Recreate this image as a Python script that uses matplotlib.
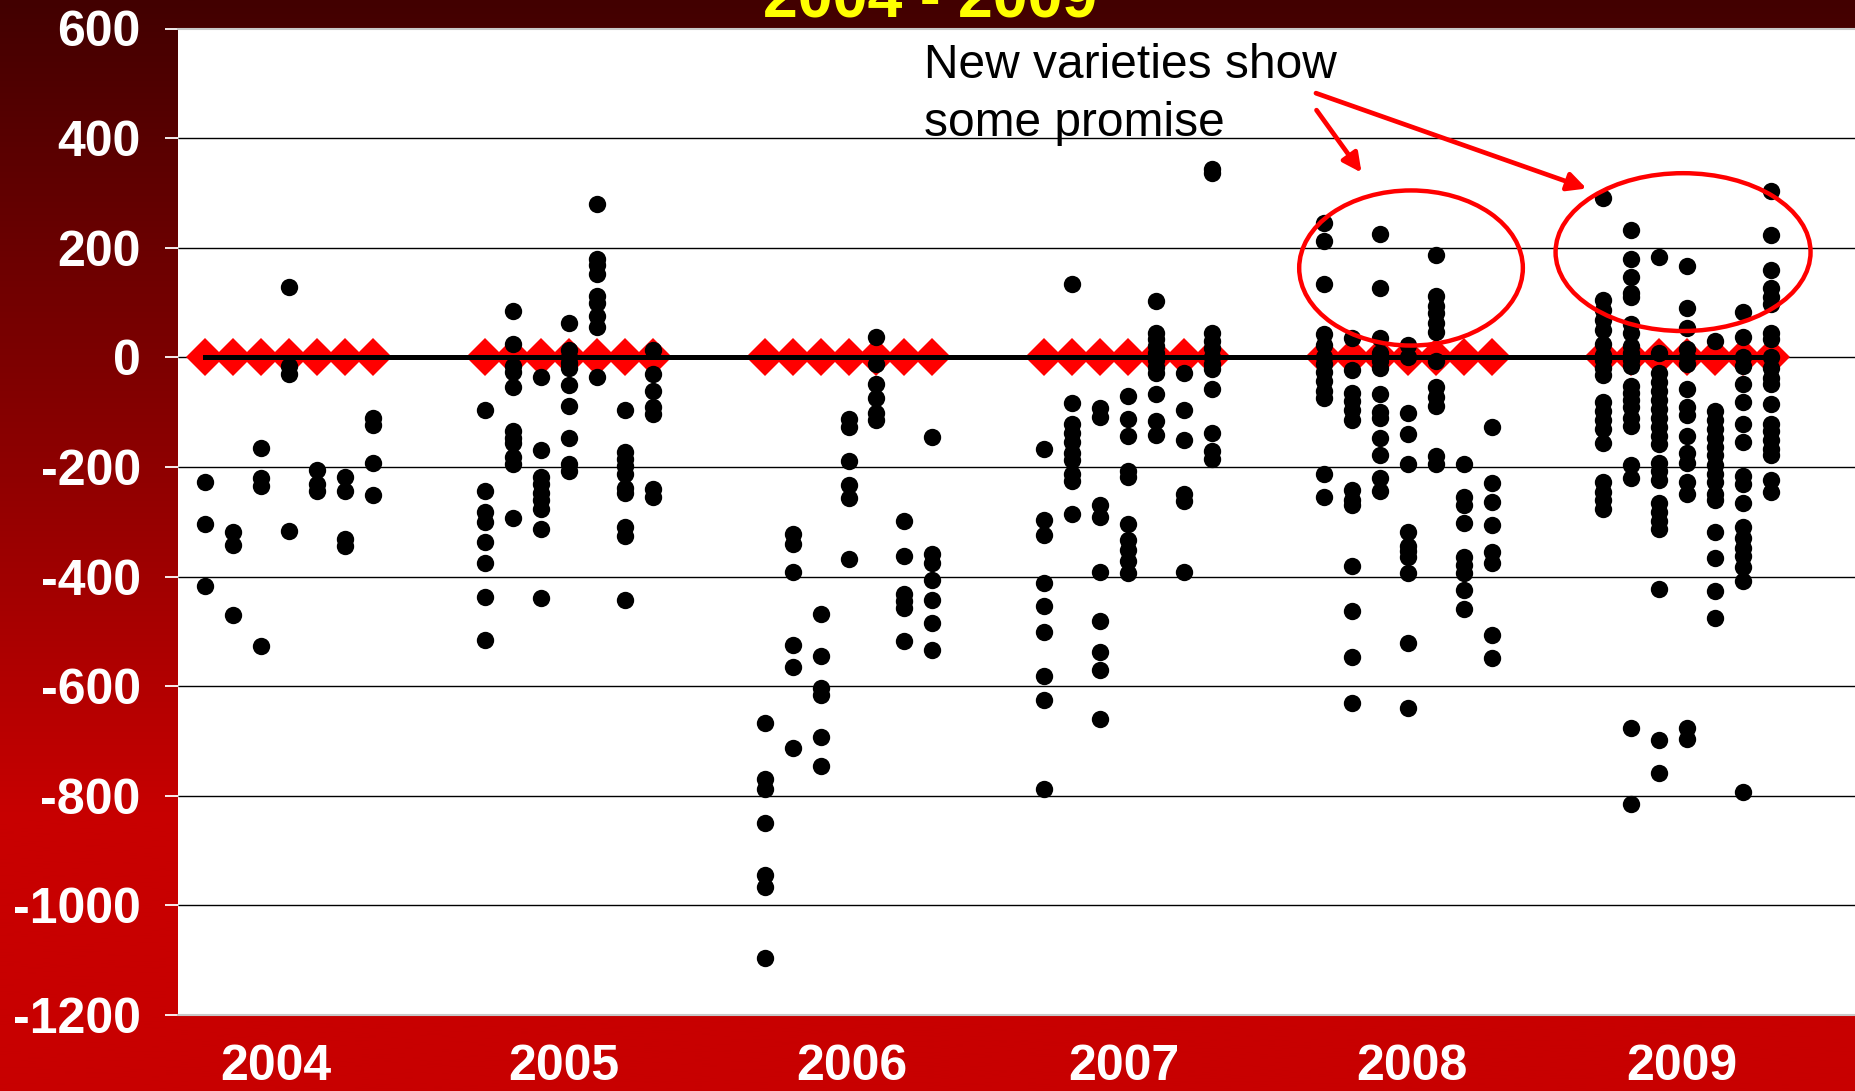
import matplotlib
matplotlib.use("Agg")
import matplotlib.pyplot as plt
import matplotlib.transforms as mtransforms
from matplotlib.patches import Ellipse
import numpy as np

years = ["2004", "2005", "2006", "2007", "2008", "2009"]

# yield difference vs. check for each of the 7 varieties per year
y2004 = [[-228, -305, -417],
         [-319, -342, -471],
         [-166, -221, -234, -526],
         [128, -15, -30, -317],
         [-205, -231, -244],
         [-218, -244, -332, -345],
         [-111, -124, -193, -251]]
y2005 = [[-96, -244, -283, -300, -337, -375, -437, -515],
         [85, 24, -16, -26, -54, -134, -147, -156, -182, -195, -293],
         [-35, -169, -218, -231, -248, -261, -277, -313, -440],
         [62, 13, 0, -10, -20, -50, -88, -147, -195, -208],
         [279, 180, 168, 152, 111, 100, 75, 55, -35],
         [-96, -173, -186, -199, -212, -238, -248, -309, -326, -443],
         [13, -31, -62, -91, -104, -241, -254]]
y2006 = [[-668, -770, -787, -850, -945, -967, -1096],
         [-323, -340, -392, -525, -565, -712],
         [-468, -545, -603, -616, -693, -745],
         [-113, -127, -190, -233, -256, -368],
         [38, -13, -48, -74, -102, -114],
         [-298, -363, -432, -444, -457, -518],
         [-145, -358, -375, -407, -442, -484, -534]]
y2007 = [[-168, -296, -325, -412, -453, -502, -582, -626, -787],
         [134, -83, -121, -138, -154, -175, -188, -213, -225, -285],
         [-92, -109, -269, -292, -391, -482, -538, -571, -659],
         [-71, -113, -144, -207, -218, -305, -334, -351, -372, -393],
         [102, 44, 33, 21, 8, -4, -17, -28, -67, -117, -142],
         [-28, -97, -151, -250, -262, -391],
         [343, 337, 44, 29, 17, 0, -13, -21, -58, -138, -171, -186]]
y2008 = [[245, 213, 134, 43, 22, 1, -13, -27, -44, -61, -75, -213, -255],
         [36, -23, -65, -79, -96, -114, -242, -260, -270, -380, -462, -547, -631],
         [225, 127, 36, 8, -6, -20, -67, -100, -110, -147, -178, -220, -244],
         [22, 1, -102, -140, -194, -318, -344, -354, -365, -393, -522, -639],
         [187, 112, 94, 80, 63, 46, -6, -54, -72, -89, -180, -194],
         [-194, -255, -270, -302, -365, -379, -393, -425, -460],
         [-127, -229, -264, -306, -355, -376, -507, -549]]
y2009 = [[291, 104, 86, 69, 49, 24, 4, -4, -20, -33, -82, -98, -114, -130, -157,
          -228, -245, -261, -277],
         [232, 179, 147, 118, 110, 61, 45, 20, 8, -4, -16, -53, -65, -78, -90,
          -110, -126, -196, -220, -676, -815],
         [183, 8, -29, -45, -62, -78, -94, -110, -127, -143, -159, -192, -208,
          -224, -265, -282, -298, -314, -423, -698, -759],
         [167, 90, 53, 16, 0, -12, -57, -90, -106, -143, -175, -192, -228, -249,
          -676, -697],
         [29, -98, -114, -130, -147, -163, -179, -196, -212, -228, -249, -261,
          -318, -367, -427, -476],
         [82, 37, 0, -16, -49, -82, -122, -155, -216, -232, -265, -310, -330,
          -347, -363, -383, -408, -794],
         [304, 224, 159, 126, 110, 98, 45, 33, 0, -20, -37, -49, -86, -122,
          -135, -151, -167, -179, -224, -245]]
all_years = [y2004, y2005, y2006, y2007, y2008, y2009]

check_value = 0
yticks = list(range(-1200, 601, 200))
year_label_x = [3.52, 13.82, 24.12, 33.85, 44.15, 53.81]

# slot positions: 7 varieties per year, 10 slots per year
xs, ys, check_x = [], [], []
for k, year in enumerate(all_years):
    for j, vals in enumerate(year):
        slot = 1 + 10 * k + j
        check_x.append(slot)
        xs += [slot] * len(vals)
        ys += vals

W, H = 1855, 1091
fig = plt.figure(figsize=(W / 100, H / 100), dpi=100)

# dark red gradient background
bg = fig.add_axes([0, 0, 1, 1], zorder=-10)
t = np.linspace(0, 1, 400)
r = np.clip(66 + (200 - 66) * t / 0.75, 0, 200) / 255
grad = np.zeros((400, 1, 3))
grad[:, 0, 0] = r
bg.imshow(grad, aspect="auto", extent=[0, 1, 0, 1], origin="upper")
bg.axis("off")

ax = fig.add_axes([177.5 / W, 76 / H, 1 - 177.5 / W, 986.5 / H])
ax.set_facecolor("white")
ax.set_xlim(0, 60)
ax.set_ylim(-1200, 600)
ax.set_xticks([])
ax.set_yticks(yticks)
ax.set_yticklabels([str(v) for v in yticks])
for lab in ax.get_yticklabels():
    lab.set_family("Liberation Sans")
    lab.set_fontweight("bold")
ax.tick_params(axis="y", colors="white", length=9.5, width=1.3, pad=17,
               labelsize=36)
for s in ["left", "right"]:
    ax.spines[s].set_visible(False)
for s in ["top", "bottom"]:
    ax.spines[s].set_color("#c8c8c8")
    ax.spines[s].set_linewidth(1.5)

ax.hlines(yticks[1:-1], 0, 60, color="black", lw=1.0, zorder=1)

ax.plot(check_x, [check_value] * len(check_x), "D", color="#ff0000",
        ms=19, mew=0, zorder=2)
ax.plot([min(check_x), max(check_x)], [check_value, check_value],
        color="black", lw=3.6, zorder=3)
ax.plot(xs, ys, "o", color="black", ms=12.5, mew=0, zorder=4)

ax.add_patch(Ellipse((44.12, 163), 8.0, 283, fill=False, ec="#ff0000",
                     lw=3.2, zorder=5))
ax.add_patch(Ellipse((53.85, 192), 9.12, 288, fill=False, ec="#ff0000",
                     lw=3.2, zorder=5))

arrow = dict(arrowstyle="-|>", color="#ff0000", lw=3.4, mutation_scale=28,
             shrinkA=0, shrinkB=0)
ax.annotate("", xy=(42.35, 337), xytext=(40.74, 451), arrowprops=arrow,
            zorder=6)
ax.annotate("", xy=(50.4, 308), xytext=(40.72, 482), arrowprops=arrow,
            zorder=6)

fig.text(924 / W, 1 - 78 / H, "New varieties show", fontsize=34.5,
         family="Liberation Sans", color="black", va="baseline")
fig.text(924 / W, 1 - 136 / H, "some promise", fontsize=34.5,
         family="Liberation Sans", color="black", va="baseline")

fig.text(930 / W, 1 - 17 / H, "2004 - 2009", fontsize=45, fontweight="bold",
         family="Liberation Sans", color="#ffff00", ha="center",
         va="baseline")

trans = mtransforms.blended_transform_factory(ax.transData, fig.transFigure)
for xl, yr in zip(year_label_x, years):
    ax.text(xl, 1 / H, yr, transform=trans, ha="center",
            va="bottom", fontsize=36, fontweight="bold",
            family="Liberation Sans", color="white", clip_on=False)

fig.savefig("out.png", dpi=100)
